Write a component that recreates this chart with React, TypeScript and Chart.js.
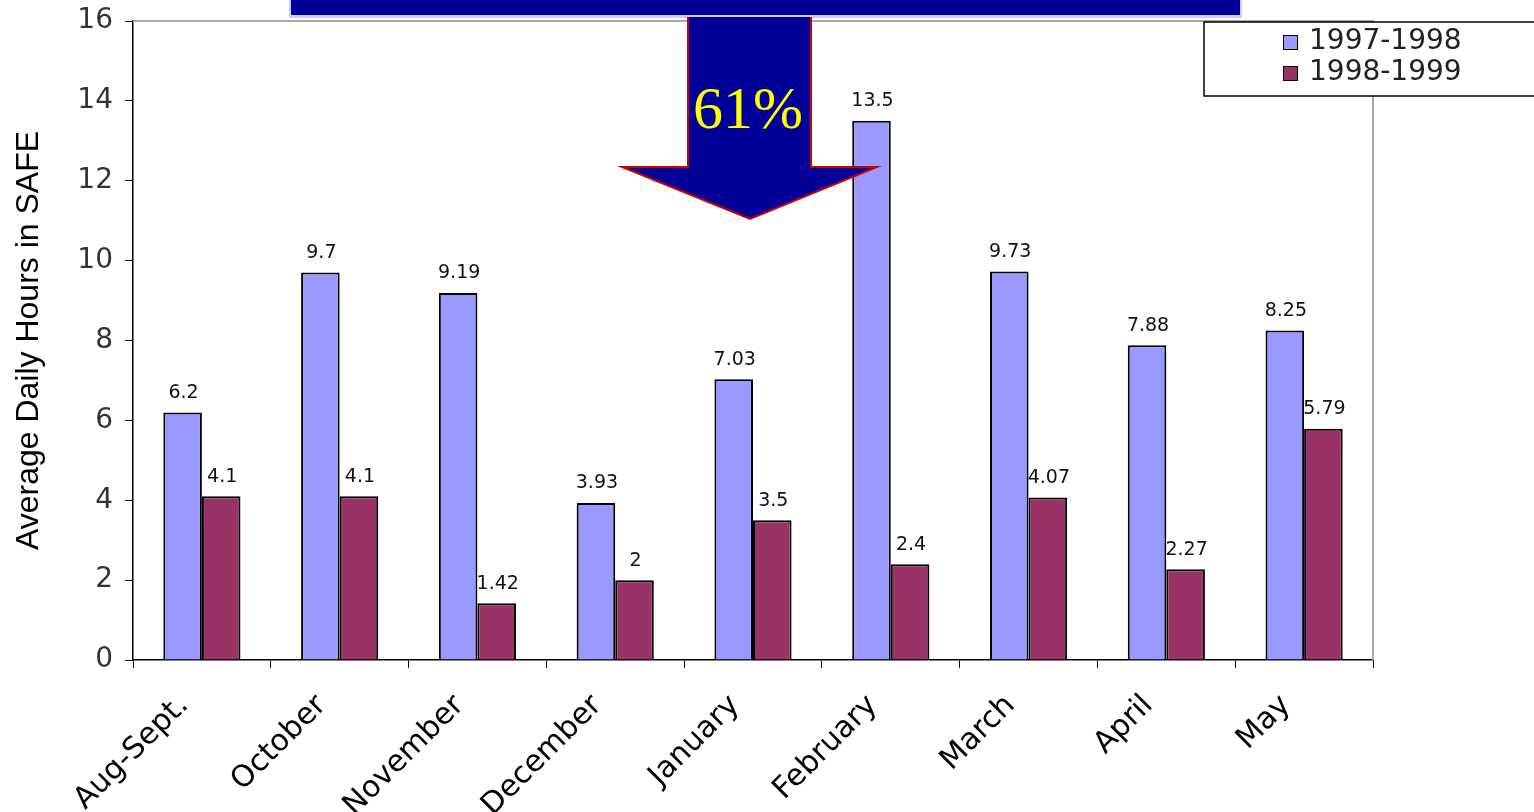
import React, { useEffect, useRef } from "react";
import { Chart, registerables } from "chart.js";

Chart.register(...registerables);

const categories = ["Aug-Sept.", "October", "November", "December", "January", "February", "March", "April", "May"];
const series1Label = "1997-1998";
const series2Label = "1998-1999";
const series1Values = [6.2, 9.7, 9.19, 3.93, 7.03, 13.5, 9.73, 7.88, 8.25];
const series2Values = [4.1, 4.1, 1.42, 2, 3.5, 2.4, 4.07, 2.27, 5.79];
const yMin = 0;
const yMax = 16;
const yStep = 2;
const yTitle = "Average Daily Hours in SAFE";
const arrowText = "61%";

const COLOR1 = "#9999FF";
const COLOR2 = "#993366";

const decorPlugin = {
  id: "decor",
  beforeDatasetsDraw(chart: any) {
    const { ctx, chartArea } = chart;
    ctx.save();
    ctx.strokeStyle = "#a8a8a8";
    ctx.lineWidth = 2;
    ctx.beginPath();
    ctx.moveTo(chartArea.left, chartArea.top);
    ctx.lineTo(chartArea.right, chartArea.top);
    ctx.lineTo(chartArea.right, chartArea.bottom);
    ctx.stroke();
    ctx.restore();
  },
  afterDatasetsDraw(chart: any) {
    const { ctx } = chart;
    ctx.save();
    ctx.font = "19px 'DejaVu Sans', sans-serif";
    ctx.fillStyle = "#111";
    ctx.textAlign = "center";
    ctx.textBaseline = "bottom";
    chart.data.datasets.forEach((ds: any, di: number) => {
      const meta = chart.getDatasetMeta(di);
      meta.data.forEach((el: any, i: number) => {
        ctx.fillText(String(ds.data[i]), el.x + 1, el.y - 10);
      });
    });
    ctx.restore();
  },
  afterDraw(chart: any) {
    const { ctx } = chart;
    ctx.save();
    // banner
    ctx.fillStyle = "#ccccff";
    ctx.fillRect(289, 0, 953, 18);
    ctx.fillStyle = "#000099";
    ctx.fillRect(291, 0, 949, 15);
    // arrow
    const pts: [number, number][] = [
      [688, 17], [688, 167], [622, 167], [750, 219], [877, 167], [811, 167], [811, 17],
    ];
    ctx.beginPath();
    pts.forEach(([x, y], i) => (i === 0 ? ctx.moveTo(x, y) : ctx.lineTo(x, y)));
    ctx.closePath();
    ctx.fillStyle = "#000099";
    ctx.fill();
    ctx.beginPath();
    pts.forEach(([x, y], i) => (i === 0 ? ctx.moveTo(x, y) : ctx.lineTo(x, y)));
    ctx.strokeStyle = "#cc0000";
    ctx.lineWidth = 2;
    ctx.stroke();
    ctx.font = "60px 'Liberation Serif', serif";
    ctx.fillStyle = "#ffff00";
    ctx.textAlign = "center";
    ctx.textBaseline = "alphabetic";
    ctx.fillText(arrowText, 748, 128);
    // legend
    ctx.fillStyle = "#ffffff";
    ctx.fillRect(1204, 22, 340, 74);
    ctx.strokeStyle = "#000";
    ctx.lineWidth = 1.5;
    ctx.strokeRect(1204, 22, 340, 74);
    ctx.font = "28px 'DejaVu Sans', sans-serif";
    ctx.textAlign = "left";
    ctx.textBaseline = "middle";
    chart.data.datasets.forEach((ds: any, di: number) => {
      const y = 42 + di * 31;
      ctx.fillStyle = ds.backgroundColor;
      ctx.fillRect(1283, y - 7, 15, 15);
      ctx.strokeStyle = "#000";
      ctx.lineWidth = 1;
      ctx.strokeRect(1283.5, y - 6.5, 14, 14);
      ctx.fillStyle = "#222";
      ctx.fillText(ds.label, 1309, y);
    });
    ctx.restore();
  },
};

export default function App() {
  const canvasRef = useRef<HTMLCanvasElement | null>(null);

  useEffect(() => {
    const canvas = canvasRef.current;
    if (!canvas) return;
    const chart = new Chart(canvas, {
      type: "bar",
      data: {
        labels: categories,
        datasets: [
          {
            label: series1Label,
            data: series1Values,
            backgroundColor: COLOR1,
            borderColor: "#000",
            borderWidth: 2,
            categoryPercentage: 0.56,
            barPercentage: 1,
          },
          {
            label: series2Label,
            data: series2Values,
            backgroundColor: COLOR2,
            borderColor: "#000",
            borderWidth: 2,
            categoryPercentage: 0.56,
            barPercentage: 1,
          },
        ],
      },
      options: {
        responsive: false,
        animation: false,
        devicePixelRatio: 1,
        layout: { padding: { left: 0, top: 21, right: 161, bottom: 0 } },
        plugins: {
          legend: { display: false },
          tooltip: { enabled: false },
        },
        scales: {
          x: {
            grid: {
              offset: true,
              drawOnChartArea: false,
              drawTicks: true,
              tickLength: 8,
              color: "#000",
            },
            border: { display: true, color: "#000", width: 1.5 },
            ticks: {
              minRotation: 45,
              maxRotation: 45,
              padding: 20,
              labelOffset: -18,
              color: "#000",
              font: { family: "'DejaVu Sans', sans-serif", size: 30 },
            },
            afterFit: (s: any) => {
              s.height = 152;
              s.paddingLeft = 0;
              s.paddingRight = 0;
            },
          },
          y: {
            min: yMin,
            max: yMax,
            grid: {
              drawOnChartArea: false,
              drawTicks: true,
              tickLength: 8,
              color: "#000",
            },
            border: { display: true, color: "#000", width: 1.5 },
            ticks: {
              stepSize: yStep,
              padding: 12,
              color: "#333",
              font: { family: "'DejaVu Sans', sans-serif", size: 28 },
            },
            title: {
              display: true,
              text: yTitle,
              color: "#000",
              padding: { top: 10, bottom: 0 },
              font: { family: "'Liberation Sans', Arial, sans-serif", size: 32 },
            },
            afterFit: (s: any) => {
              s.width = 133;
              s.paddingTop = 0;
              s.paddingBottom = 0;
            },
          },
        },
      },
      plugins: [decorPlugin],
    });
    return () => chart.destroy();
  }, []);

  return (
    <div style={{ position: "absolute", left: 0, top: 0, width: 1534, height: 812, background: "#fff", overflow: "hidden" }}>
      <canvas ref={canvasRef} width={1534} height={812} style={{ display: "block" }} />
    </div>
  );
}
